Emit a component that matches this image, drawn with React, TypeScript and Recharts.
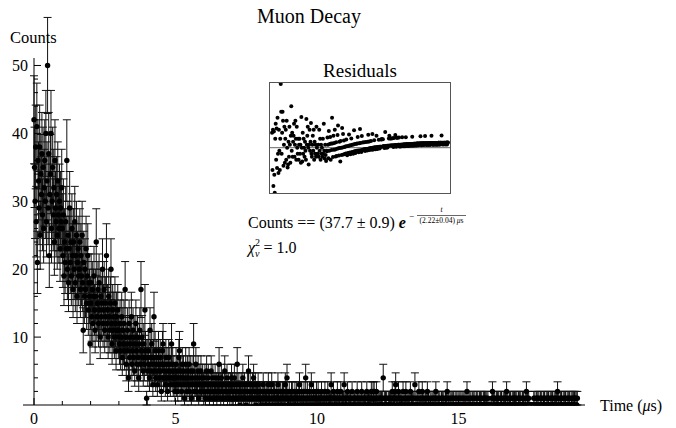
import {
  ErrorBar,
  ReferenceLine,
  Scatter,
  ScatterChart,
  XAxis,
  YAxis,
} from "recharts";

const binWidth = 0.02; // µs per bin
const residualBinWidth = 0.05; // inset uses coarser bins

// counts per bin, one row per µs (50 bins)
const counts = [
  [42, 35, 30, 38, 27, 41, 21, 36, 33, 29, 38, 25, 34, 31, 37, 28, 35, 26, 32, 36, 30, 40, 27, 33, 50, 29, 37, 22, 31, 34, 40, 26, 30, 35, 28, 32, 24, 36, 29, 27, 31, 25, 33, 28, 26, 30, 23, 29, 27, 32],
  [26, 22, 28, 19, 24, 21, 27, 23, 36, 20, 25, 18, 23, 29, 21, 24, 19, 26, 22, 17, 24, 20, 27, 18, 22, 25, 16, 21, 23, 19, 20, 24, 17, 22, 19, 25, 18, 11, 21, 16, 20, 17, 23, 15, 19, 22, 14, 18, 16, 9],
  [15, 18, 13, 17, 12, 16, 19, 14, 11, 16, 24, 13, 15, 17, 12, 18, 14, 10, 16, 13, 15, 20, 12, 14, 17, 11, 15, 13, 22, 12, 14, 10, 16, 13, 11, 15, 20, 12, 9, 14, 11, 13, 10, 15, 12, 8, 13, 11, 14, 10],
  [11, 9, 12, 8, 10, 13, 7, 11, 9, 12, 8, 17, 10, 6, 9, 11, 8, 4, 12, 7, 10, 9, 13, 6, 8, 11, 7, 10, 5, 9, 12, 8, 6, 10, 7, 4, 9, 11, 6, 17, 8, 10, 7, 5, 9, 6, 14, 8, 7, 1],
  [7, 5, 8, 6, 4, 11, 7, 5, 9, 6, 3, 7, 13, 5, 8, 4, 6, 7, 3, 5, 8, 6, 4, 7, 5, 2, 6, 8, 9, 4, 6, 5, 3, 7, 4, 6, 2, 5, 7, 4, 6, 3, 5, 9, 4, 6, 3, 5, 4, 2],
  [4, 6, 3, 5, 2, 4, 7, 8, 3, 5, 4, 2, 6, 3, 5, 4, 1, 3, 6, 4, 2, 5, 3, 4, 6, 2, 3, 5, 1, 4, 3, 5, 9, 2, 4, 3, 6, 2, 4, 3, 5, 1, 3, 4, 2, 5, 3, 2, 4, 3],
  [3, 2, 4, 1, 3, 5, 2, 3, 4, 2, 1, 3, 2, 5, 3, 2, 4, 1, 3, 2, 4, 2, 3, 1, 2, 4, 3, 6, 2, 3, 1, 4, 2, 3, 2, 1, 3, 5, 2, 3, 2, 4, 1, 2, 3, 2, 1, 3, 2, 4],
  [2, 3, 1, 2, 4, 2, 1, 3, 2, 6, 2, 1, 3, 2, 0, 2, 3, 1, 2, 4, 1, 2, 3, 1, 2, 0, 2, 3, 1, 5, 2, 1, 3, 2, 1, 2, 3, 1, 4, 2, 1, 3, 0, 2, 1, 2, 3, 1, 2, 1],
  [2, 1, 0, 2, 1, 3, 1, 2, 0, 1, 2, 1, 2, 0, 3, 1, 1, 2, 0, 2, 3, 1, 0, 2, 1, 2, 1, 0, 2, 1, 1, 3, 1, 2, 0, 1, 2, 1, 0, 2, 1, 2, 0, 1, 3, 1, 2, 4, 1, 0],
  [1, 2, 0, 1, 1, 2, 0, 2, 1, 0, 1, 2, 1, 0, 2, 1, 1, 0, 2, 3, 1, 0, 1, 2, 0, 1, 1, 2, 0, 1, 4, 1, 0, 2, 1, 0, 1, 2, 1, 0, 3, 1, 0, 1, 2, 1, 0, 1, 1, 2],
  [1, 0, 2, 1, 0, 1, 1, 0, 2, 1, 0, 1, 0, 1, 2, 0, 1, 1, 0, 2, 1, 0, 1, 0, 1, 3, 1, 0, 1, 2, 0, 1, 1, 0, 1, 0, 2, 1, 0, 1, 1, 0, 2, 0, 1, 1, 0, 1, 3, 0],
  [1, 0, 1, 0, 2, 1, 0, 1, 0, 1, 1, 0, 2, 0, 1, 0, 1, 1, 0, 1, 0, 2, 1, 0, 1, 0, 1, 0, 1, 2, 0, 1, 0, 1, 1, 0, 1, 0, 2, 1, 0, 1, 0, 1, 0, 1, 2, 1, 0, 2],
  [1, 2, 0, 1, 0, 2, 1, 0, 1, 0, 1, 0, 1, 0, 1, 0, 1, 4, 0, 1, 0, 1, 0, 1, 0, 0, 1, 0, 1, 0, 1, 0, 1, 2, 0, 1, 0, 1, 2, 3, 0, 1, 0, 1, 2, 0, 1, 0, 1, 0],
  [1, 0, 2, 0, 1, 0, 1, 2, 0, 1, 0, 1, 0, 1, 0, 2, 0, 1, 0, 1, 0, 1, 0, 3, 0, 1, 0, 0, 1, 0, 2, 0, 1, 0, 1, 0, 2, 1, 0, 1, 0, 0, 1, 0, 1, 2, 0, 1, 0, 0],
  [1, 0, 0, 1, 0, 1, 0, 1, 0, 1, 2, 0, 1, 0, 0, 1, 0, 1, 0, 0, 1, 0, 1, 0, 1, 0, 0, 1, 0, 1, 2, 0, 1, 0, 0, 1, 0, 1, 0, 1, 0, 1, 0, 0, 1, 0, 1, 0, 0, 1],
  [0, 1, 0, 1, 0, 0, 1, 0, 1, 0, 1, 0, 0, 1, 0, 2, 0, 1, 0, 0, 1, 0, 1, 0, 0, 1, 0, 1, 0, 1, 0, 0, 1, 0, 1, 0, 0, 1, 0, 1, 0, 1, 0, 0, 1, 0, 1, 0, 1, 0],
  [1, 0, 1, 0, 0, 0, 0, 0, 0, 1, 2, 0, 1, 0, 1, 0, 0, 1, 0, 1, 0, 1, 0, 0, 1, 0, 1, 0, 0, 1, 0, 1, 0, 1, 0, 2, 0, 1, 0, 0, 1, 0, 1, 0, 0, 1, 0, 1, 0, 1],
  [0, 1, 0, 1, 0, 0, 1, 0, 1, 0, 1, 0, 0, 1, 0, 1, 0, 0, 1, 0, 2, 0, 1, 0, 1, 0, 0, 0, 0, 0, 0, 0, 0, 1, 0, 1, 0, 0, 1, 0, 1, 0, 1, 0, 0, 1, 0, 1, 0, 0],
  [1, 0, 1, 0, 0, 1, 0, 1, 0, 1, 0, 0, 1, 0, 1, 0, 1, 0, 0, 1, 0, 1, 0, 1, 0, 2, 0, 1, 0, 0, 1, 0, 1, 0, 0, 1, 0, 1, 0, 1, 0, 0, 1, 0, 1, 0, 1, 0, 0, 1],
  [0, 1, 0, 1, 0, 1, 1, 0, 1, 0, 1],
].flat();

// residuals for the inset, one row per µs (20 bins)
const residuals = [
  [2.5, -3.7, 3.0, -6.4, 2.7, -4.5, -7.5, 1.5, 4.0, -2.0, 3.2, -3.4, 5.0, -1.0, -4.2, 3.0, -0.5, -3.7, 1.5, 10.6],
  [6.0, -1.0, 2.5, 6.0, 4.5, -3.0, 0.5, 3.5, -2.5, 1.5, 3.0, -2.0, 4.5, 0.0, -3.3, -2.8, 1.0, -1.5, 3.5, 0.5],
  [-2.5, 2.0, 6.9, -0.5, 2.5, -1.5, 1.0, 2.0, 4.0, -1.5, 0.5, 4.5, 1.5, -2.0, 3.5, 0.0, -1.0, 1.5, -2.0, 0.5],
  [1.5, -1.0, 0.5, -2.5, 5.1, 0.0, -2.3, 2.5, -1.0, 1.5, 0.0, -1.5, 1.0, -0.5, -2.0, 4.8, 0.5, 2.0, 3.5, 0.0],
  [-2.8, 0.5, 3.0, -0.5, 1.0, 4.1, -1.0, -1.5, 0.5, 2.0, -0.5, 3.0, -2.0, 1.0, -1.0, 0.5, -1.5, 3.5, 0.0, -1.0],
  [-1.0, 0.5, -1.5, 3.0, -0.5, 1.5, -2.0, 0.5, -1.0, 0.0, -1.5, 1.5, -1.0, 4.0, -0.5, -1.8, 0.5, -1.2, -2.2, -0.5],
  [-0.6, 1.7, 0.5, -1.75, 2.8, -0.5, 0.6, 1.8, -2.0, 0.7, -0.4, 5.0, 0.7, -1.57, 2.0, -0.35, 0.8, 3.0, -0.3, -1.47],
  [0.9, -1.38, -0.16, 2.1, 3.7, -0.1, -1.3, 1.0, -0.06, -2.3, 1.1, 0.0, -1.2, 3.3, 0.05, 2.3, -1.12, 1.2, 0.1, -1.05],
  [0.2, -0.98, 1.35, 0.25, -1.25, -0.92, 0.3, -0.88, 2.2, 0.35, -0.82, -1.1, 0.42, 1.55, -0.75, 0.47, -0.72, -1.0, 0.53, 2.9],
  [-0.6, 0.6, -0.88, -0.57, 0.65, -0.53, 0.68, 1.8, -0.48, -0.77, 0.75, -0.45, 3.1, 0.8, -0.41, -0.7, 1.95, -0.37, 0.85, -0.33],
  [-0.3, 0.9, -0.28, -0.55, -0.25, 0.95, -0.22, -0.2, -0.45, 1.0, 2.15, -0.15, 1.05, -0.4, -0.1, -0.08, 1.12, -0.05, -0.33, 2.3],
  [0.0, -0.3, 0.02, 1.23, 0.04, 0.05, -0.24, 0.07, 2.0, 0.09, -0.2, 0.11, 0.12, 1.33, 0.14, -0.15, 0.16, 0.17, 1.38, 1.4],
  [1.4, 0.21, 1.42, 0.23, 0.24, -0.05, 0.26, 2.6, 0.28, 0.0, 0.3, 0.31, 0.02, 0.33, 0.33, 1.54, 2.0, 0.35, 1.55, 0.35],
  [1.55, 0.36, 0.37, 1.58, 0.39, 0.1, 1.6, 0.41, 0.42, 2.1, 0.43, 0.14, 1.65, 0.45, 1.66, 0.47, 0.47, 1.68, 0.19, 0.5],
  [0.5, 0.21, 0.51, 0.51, 1.72, 0.52, 0.23, 0.53, 0.54, 0.54, 0.25, 0.56, 1.76, 0.57, 0.57, 0.28, 0.58, 0.59, 0.3, 0.6],
  [0.6, 0.61, 0.31, 0.62, 0.62, 0.33, 1.83, 0.63, 0.64, 0.34, 0.65, 0.66, 0.66, 0.37, 0.67, 0.68, 0.38, 0.69, 0.69, 0.7],
  [0.4, 0.7, 0.71, 0.71, 1.91, 0.72, 0.42, 0.72, 0.72, 0.43, 0.73, 0.73, 0.43, 0.73, 1.94, 0.74, 0.74, 0.44, 0.75, 0.75],
  [0.75, 0.45, 0.76, 0.76, 0.76, 0.46, 0.77, 0.77, 1.97, 0.77, 0.78, 0.48, 0.48, 0.78, 0.79, 0.79, 0.49, 0.79, 0.8, 0.5],
  [0.8, 0.8, 0.5, 0.81, 0.81, 0.81, 0.51, 0.82, 0.82, 0.82, 2.02, 0.82, 0.52, 0.83, 0.83, 0.53, 0.83, 0.84, 0.84, 0.54],
  [0.84, 0.85, 0.55, 0.85, 0.85],
].flat();

const xTicks = [0, 1, 2, 3, 4, 5, 6, 7, 8, 9, 10, 11, 12, 13, 14, 15, 16, 17, 18, 19];
const xLabels = [0, 5, 10, 15];
const yTicks = [2, 4, 6, 8, 10, 12, 14, 16, 18, 20, 22, 24, 26, 28, 30, 32, 34, 36, 38, 40, 42, 44, 46, 48, 50];
const yLabels = [10, 20, 30, 40, 50];

const data = counts.map((n, i) => ({
  t: +(i * binWidth).toFixed(2),
  n,
  err: Math.sqrt(n), // Poisson error
}));

const residualData = residuals.map((r, i) => ({ t: +(i * residualBinWidth).toFixed(2), r }));

const serif = '"Liberation Serif", "Times New Roman", serif';
const xPad = 11; // x-axis line runs a bit left of t = 0

function XTick({ x, y, payload }: any) {
  const v = payload.value;
  const major = xLabels.includes(v);
  return (
    <g>
      <line x1={x} x2={x} y1={y} y2={y - (major ? 7 : 4)} stroke="#000" />
      {major && (
        <text x={x} y={y + 19} textAnchor="middle" fontFamily={serif} fontSize={16} fill="#000">
          {v}
        </text>
      )}
    </g>
  );
}

function YTick({ x, y, payload }: any) {
  const v = payload.value;
  const major = yLabels.includes(v);
  const ax = x + xPad;
  return (
    <g>
      <line x1={ax} x2={ax + (major ? 7 : 4)} y1={y} y2={y} stroke="#000" />
      {major && (
        <text x={ax - 6} y={y} dy="0.35em" textAnchor="end" fontFamily={serif} fontSize={16} fill="#000">
          {v}
        </text>
      )}
    </g>
  );
}

const mainDot = (p: any) => <circle cx={p.cx} cy={p.cy} r={2.7} fill="#000" />;
const insetDot = (p: any) => <circle cx={p.cx} cy={p.cy} r={2} fill="#000" />;

export default function App() {
  return (
    <div style={{ position: "absolute", left: 0, top: 0, width: 676, height: 428, background: "#fff" }}>
      <ScatterChart width={676} height={428} margin={{ top: 58, right: 91, bottom: 0, left: 0 }}>
        <XAxis
          type="number"
          dataKey="t"
          domain={[0, 19.47]}
          padding={{ left: xPad, right: 0 }}
          ticks={xTicks}
          interval={0}
          height={23}
          tickLine={false}
          tickSize={0}
          tickMargin={0}
          axisLine={{ stroke: "#000" }}
          tick={(p: any) => <XTick {...p} />}
        />
        <YAxis
          type="number"
          dataKey="n"
          domain={[0, 51.1]}
          allowDataOverflow
          ticks={yTicks}
          interval={0}
          width={23}
          axisLine={false}
          tickLine={false}
          tickSize={0}
          tickMargin={0}
          tick={(p: any) => <YTick {...p} />}
        />
        <ReferenceLine x={0} stroke="#000" />
        <Scatter data={data} isAnimationActive={false} shape={mainDot}>
          <ErrorBar dataKey="err" direction="y" width={4} stroke="#111" strokeWidth={1} isAnimationActive={false} />
        </Scatter>
      </ScatterChart>

      <div
        style={{
          position: "absolute",
          left: 269,
          top: 82,
          width: 182,
          height: 112,
          border: "1px solid #555",
          boxSizing: "border-box",
        }}
      >
        <ScatterChart width={180} height={110} margin={{ top: 0, right: 0, bottom: 0, left: 0 }}>
          <XAxis type="number" dataKey="t" domain={[-0.22, 19.42]} hide />
          <YAxis type="number" dataKey="r" domain={[-7.55, 10.78]} hide />
          <ReferenceLine y={0} stroke="#666" />
          <Scatter data={residualData} isAnimationActive={false} shape={insetDot} />
        </ScatterChart>
      </div>

      <svg
        width={676}
        height={428}
        style={{ position: "absolute", left: 0, top: 0, pointerEvents: "none" }}
        fontFamily={serif}
        fill="#000"
      >
        <text x={309} y={23} textAnchor="middle" fontSize={20}>Muon Decay</text>
        <text x={10} y={43} fontSize={16.5}>Counts</text>
        <text x={600} y={411} fontSize={16}>
          Time (<tspan fontStyle="italic">μ</tspan>s)
        </text>
        <text x={360} y={77} textAnchor="middle" fontSize={19}>Residuals</text>

        <text x={248} y={228} fontSize={16}>
          Counts == (37.7 ± 0.9) <tspan fontWeight="bold" fontStyle="italic">e</tspan>
        </text>
        <text x={409} y={219} fontSize={9}>−</text>
        <line x1={417} x2={466} y1={215.5} y2={215.5} stroke="#000" strokeWidth={0.6} />
        <text x={441.5} y={212} textAnchor="middle" fontSize={7.5} fontStyle="italic">t</text>
        <text x={441.5} y={223} textAnchor="middle" fontSize={7.5}>
          (2.22±0.04) <tspan fontStyle="italic">μ</tspan>s
        </text>

        <text x={248} y={253} fontSize={16}>
          <tspan fontStyle="italic">χ</tspan>
          <tspan dy={-7} fontSize={10}>2</tspan>
          <tspan dx={-5} dy={11} fontSize={10} fontStyle="italic">ν</tspan>
          <tspan dy={-4}> = 1.0</tspan>
        </text>
      </svg>
    </div>
  );
}
